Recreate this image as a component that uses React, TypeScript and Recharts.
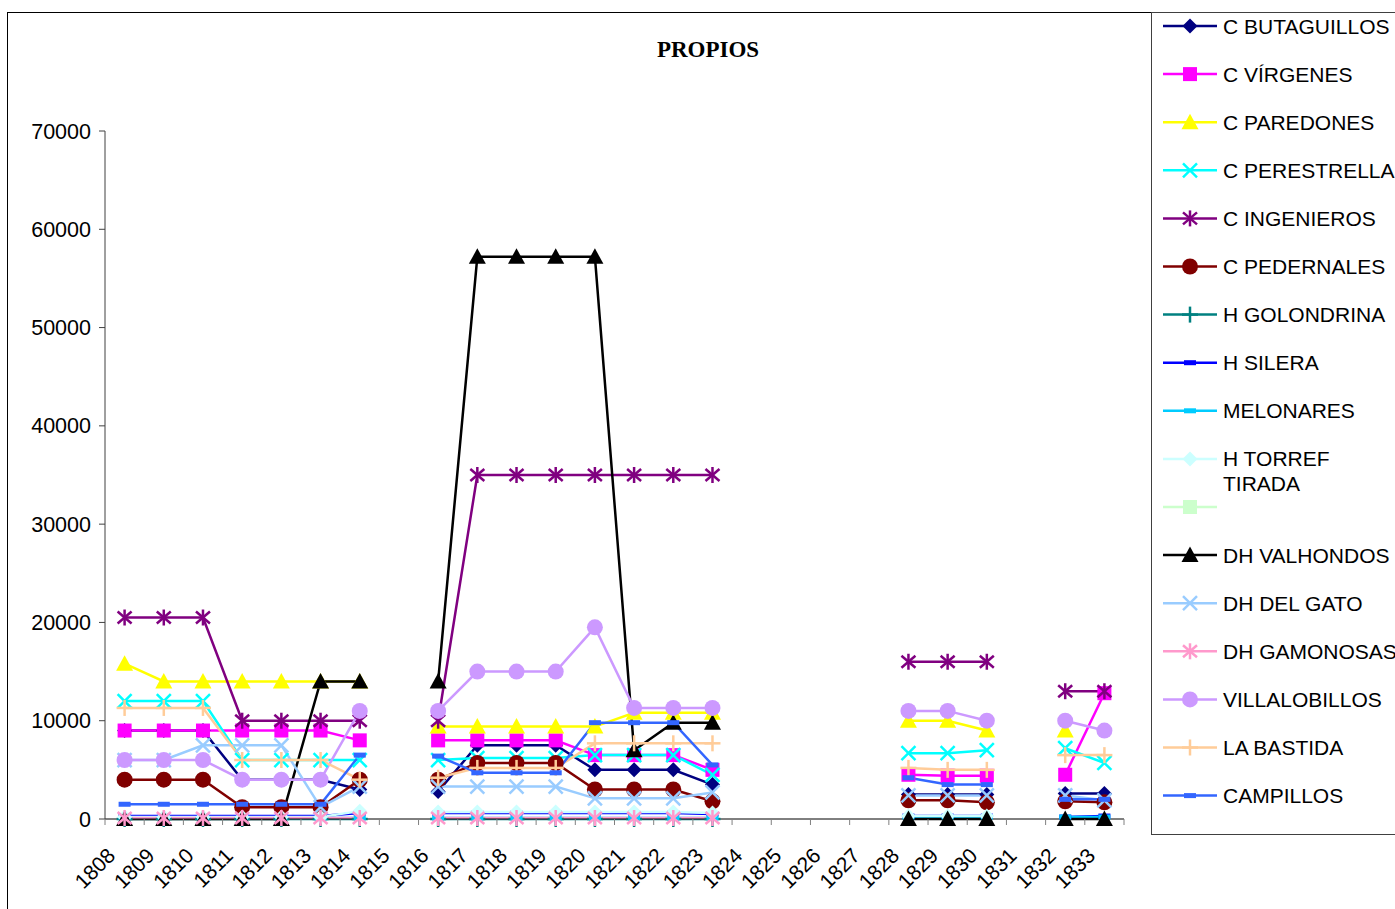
import { LineChart, Line, XAxis, YAxis } from 'recharts';

// Ingresos de propios por finca, 1808–1833 (años sin dato quedan en null).

const years = [
  1808, 1809, 1810, 1811, 1812, 1813, 1814, 1815, 1816, 1817, 1818, 1819, 1820,
  1821, 1822, 1823, 1824, 1825, 1826, 1827, 1828, 1829, 1830, 1831, 1832, 1833,
];
const yTicks = [0, 10000, 20000, 30000, 40000, 50000, 60000, 70000];

const N = null;
const butaguillos = [9000, 9000, 9000, 4000, 4000, 4000, 3000, N, 2800, 7500, 7500, 7500, 5000, 5000, 5000, 3500, N, N, N, N, 2500, 2500, 2500, N, 2600, 2600];
const virgenes = [9000, 9000, 9000, 9000, 9000, 9000, 8000, N, 8000, 8000, 8000, 8000, 6500, 6500, 6500, 5000, N, N, N, N, 4500, 4400, 4400, N, 4500, 12800];
const paredones = [15800, 14000, 14000, 14000, 14000, 14000, 14000, N, 9400, 9400, 9400, 9400, 9400, 10800, 10800, 10800, N, N, N, N, 10000, 10000, 9000, N, 9000, N];
const perestrella = [12000, 12000, 12000, 6000, 6000, 6000, 6000, N, 6000, 6200, 6200, 6200, 6500, 6500, 6500, 4500, N, N, N, N, 6700, 6700, 7000, N, 7200, 5700];
const ingenieros = [20500, 20500, 20500, 10000, 10000, 10000, 10000, N, 10000, 35000, 35000, 35000, 35000, 35000, 35000, 35000, N, N, N, N, 16000, 16000, 16000, N, 13000, 13000];
const pedernales = [4000, 4000, 4000, 1200, 1200, 1200, 4000, N, 4000, 5700, 5700, 5700, 3000, 3000, 3000, 1800, N, N, N, N, 1900, 1900, 1700, N, 1800, 1700];
const golondrina = [0, 0, 0, 0, 0, 0, 0, N, 0, 0, 0, 0, 0, 0, 0, 0, N, N, N, N, N, N, N, N, N, N];
const silera = [300, 300, 300, 300, 300, 300, 600, N, 600, 600, 600, 600, 600, 600, 600, 500, N, N, N, N, 300, 300, 300, N, 200, 300];
const melonares = [100, 100, 100, 100, 100, 100, 100, N, 100, 100, 100, 100, 100, 100, 100, 100, N, N, N, N, 200, 200, 200, N, 200, 200];
const torrefTirada = [200, 200, 200, 200, 200, 200, 800, N, 700, 700, 700, 700, 700, 700, 700, 600, N, N, N, N, 300, 300, 300, N, N, N];
const valhondos = [0, 0, 0, 0, 0, 14000, 14000, N, 14000, 57200, 57200, 57200, 57200, 7000, 9800, 9800, N, N, N, N, 0, 0, 0, N, 0, 0];
const delGato = [6000, 6000, 7500, 7500, 7500, 1200, 3300, N, 3300, 3300, 3300, 3300, 2100, 2100, 2100, 2700, N, N, N, N, 2400, 2400, 2400, N, 2400, 1900];
const gamonosas = [100, 100, 100, 100, 100, 100, 100, N, 100, 100, 100, 100, 100, 100, 100, 100, N, N, N, N, N, N, N, N, N, N];
const villalobillos = [6000, 6000, 6000, 4000, 4000, 4000, 11000, N, 11000, 15000, 15000, 15000, 19500, 11300, 11300, 11300, N, N, N, N, 11000, 11000, 10000, N, 10000, 9000];
const laBastida = [11300, 11300, 11300, 6000, 6000, 6000, 4000, N, 4200, 5200, 5200, 5200, 7700, 7700, 7700, 7700, N, N, N, N, 5200, 5000, 5000, N, 6500, 6500];
const campillos = [1500, 1500, 1500, 1500, 1500, 1500, 6500, N, 6400, 4700, 4700, 4700, 9800, 9800, 9800, 5500, N, N, N, N, 4200, 3500, 3500, N, 2000, 2000];

type Shape = 'diamond' | 'square' | 'triangle' | 'x' | 'star' | 'circle' | 'plus' | 'dash';
type Serie = { key: string; name: string; color: string; shape: Shape; values?: (number | null)[] };

const SERIES: Serie[] = [
  { key: 'butaguillos', name: 'C BUTAGUILLOS', color: '#000080', shape: 'diamond', values: butaguillos },
  { key: 'virgenes', name: 'C VÍRGENES', color: '#FF00FF', shape: 'square', values: virgenes },
  { key: 'paredones', name: 'C PAREDONES', color: '#FFFF00', shape: 'triangle', values: paredones },
  { key: 'perestrella', name: 'C PERESTRELLA', color: '#00FFFF', shape: 'x', values: perestrella },
  { key: 'ingenieros', name: 'C INGENIEROS', color: '#800080', shape: 'star', values: ingenieros },
  { key: 'pedernales', name: 'C PEDERNALES', color: '#800000', shape: 'circle', values: pedernales },
  { key: 'golondrina', name: 'H GOLONDRINA', color: '#008080', shape: 'plus', values: golondrina },
  { key: 'silera', name: 'H SILERA', color: '#0000FF', shape: 'dash', values: silera },
  { key: 'melonares', name: 'MELONARES', color: '#00CCFF', shape: 'dash', values: melonares },
  { key: 'torref', name: 'H TORREF TIRADA', color: '#CCFFFF', shape: 'diamond', values: torrefTirada },
  // entrada sin nombre ni datos, sólo aparece en la leyenda
  { key: 'blank', name: '', color: '#CCFFCC', shape: 'square' },
  { key: 'valhondos', name: 'DH VALHONDOS', color: '#000000', shape: 'triangle', values: valhondos },
  { key: 'gato', name: 'DH DEL GATO', color: '#99CCFF', shape: 'x', values: delGato },
  { key: 'gamonosas', name: 'DH GAMONOSAS', color: '#FF99CC', shape: 'star', values: gamonosas },
  { key: 'villalobillos', name: 'VILLALOBILLOS', color: '#CC99FF', shape: 'circle', values: villalobillos },
  { key: 'bastida', name: 'LA BASTIDA', color: '#FFCC99', shape: 'plus', values: laBastida },
  { key: 'campillos', name: 'CAMPILLOS', color: '#3366FF', shape: 'dash', values: campillos },
];

const rows = years.map((year, i) => {
  const row: Record<string, string | number | null> = { year: String(year) };
  SERIES.forEach((s) => {
    if (s.values) row[s.key] = s.values[i];
  });
  return row;
});

const W = 1395;
const H = 909;
const PLOT_LEFT = 105;
const PLOT_RIGHT = 1124;
const PLOT_TOP = 131;
const PLOT_BOTTOM = 819;
const Y_W = 95;
const X_H = 60;
const STEP = (PLOT_RIGHT - PLOT_LEFT) / years.length;
const FONT = '"Liberation Sans", Arial, sans-serif';

function Marker({ shape, color, cx, cy }: { shape: Shape; color: string; cx: number; cy: number }) {
  const sw = 2.5;
  switch (shape) {
    case 'diamond':
      return <polygon points={`${cx},${cy - 7.5} ${cx + 7.5},${cy} ${cx},${cy + 7.5} ${cx - 7.5},${cy}`} fill={color} />;
    case 'square':
      return <rect x={cx - 7} y={cy - 7} width={14} height={14} fill={color} />;
    case 'triangle':
      return <polygon points={`${cx},${cy - 8.5} ${cx + 8.5},${cy + 7} ${cx - 8.5},${cy + 7}`} fill={color} />;
    case 'x':
      return (
        <g stroke={color} strokeWidth={sw}>
          <line x1={cx - 7} y1={cy - 7} x2={cx + 7} y2={cy + 7} />
          <line x1={cx - 7} y1={cy + 7} x2={cx + 7} y2={cy - 7} />
        </g>
      );
    case 'star':
      return (
        <g stroke={color} strokeWidth={sw}>
          <line x1={cx - 7} y1={cy - 6} x2={cx + 7} y2={cy + 6} />
          <line x1={cx - 7} y1={cy + 6} x2={cx + 7} y2={cy - 6} />
          <line x1={cx} y1={cy - 8} x2={cx} y2={cy + 8} />
        </g>
      );
    case 'circle':
      return <circle cx={cx} cy={cy} r={8} fill={color} />;
    case 'plus':
      return (
        <g stroke={color} strokeWidth={sw}>
          <line x1={cx - 8} y1={cy} x2={cx + 8} y2={cy} />
          <line x1={cx} y1={cy - 8} x2={cx} y2={cy + 8} />
        </g>
      );
    case 'dash':
      return <rect x={cx - 6} y={cy - 2.5} width={12} height={5} fill={color} />;
  }
  return null;
}

function YearTick(props: any) {
  const { x, y, payload, index } = props;
  const half = STEP / 2;
  const last = index === years.length - 1;
  return (
    <g>
      <line x1={x - half} x2={x - half} y1={y} y2={y + 6} stroke="#808080" />
      {last && <line x1={x + half} x2={x + half} y1={y} y2={y + 6} stroke="#808080" />}
      <text
        transform={`translate(${x - 8},${y + 38}) rotate(-45)`}
        textAnchor="end"
        fontFamily={FONT}
        fontSize={21}
        fill="#000"
      >
        {payload.value}
      </text>
    </g>
  );
}

function Legend() {
  const rowY = (i: number) => 26 + i * 48.1;
  return (
    <g>
      <rect x={1151.5} y={12.5} width={300} height={822} fill="#fff" stroke="#404040" />
      {SERIES.map((s, i) => {
        const cy = rowY(i);
        const lines = s.name === 'H TORREF TIRADA' ? ['H TORREF', 'TIRADA'] : [s.name];
        return (
          <g key={s.key}>
            <line x1={1163} x2={1217} y1={cy} y2={cy} stroke={s.color} strokeWidth={2.5} />
            <Marker shape={s.shape} color={s.color} cx={1190} cy={cy} />
            {lines.map((t, j) => (
              <text key={j} x={1223} y={cy + 7.5 + j * 25} fontFamily={FONT} fontSize={21} fill="#000">
                {t}
              </text>
            ))}
          </g>
        );
      })}
    </g>
  );
}

export default function App() {
  return (
    <div style={{ position: 'absolute', left: 0, top: 0, width: W, height: H, background: '#fff', overflow: 'hidden' }}>
      <LineChart
        width={W}
        height={H}
        data={rows}
        margin={{ top: PLOT_TOP, right: W - PLOT_RIGHT, left: PLOT_LEFT - Y_W, bottom: H - PLOT_BOTTOM - X_H }}
      >
        <XAxis
          dataKey="year"
          interval={0}
          padding={{ left: STEP / 2, right: STEP / 2 }}
          height={X_H}
          tickSize={0}
          tickMargin={0}
          tickLine={false}
          axisLine={{ stroke: '#000' }}
          tick={YearTick}
        />
        <YAxis
          domain={[0, 70000]}
          ticks={yTicks}
          interval={0}
          width={Y_W}
          tickSize={6}
          tickMargin={8}
          axisLine={{ stroke: '#404040' }}
          tickLine={{ stroke: '#404040' }}
          tick={{ fontSize: 21.5, fill: '#000', fontFamily: FONT }}
        />
        {SERIES.filter((s) => s.values).map((s) => (
          <Line
            key={s.key}
            type="linear"
            dataKey={s.key}
            name={s.name}
            stroke={s.color}
            strokeWidth={2.5}
            isAnimationActive={false}
            activeDot={false}
            dot={(p: any) => {
              const k = `${s.key}-${p.index}`;
              if (p.value == null || p.cy == null) return <g key={k} />;
              return (
                <g key={k}>
                  <Marker shape={s.shape} color={s.color} cx={p.cx} cy={p.cy} />
                </g>
              );
            }}
          />
        ))}
      </LineChart>
      <svg width={W} height={H} style={{ position: 'absolute', left: 0, top: 0, pointerEvents: 'none' }}>
        <rect x={7.5} y={12.5} width={1500} height={1000} fill="none" stroke="#000" />
        <text x={708} y={57} textAnchor="middle" fontFamily='"Liberation Serif", "Times New Roman", serif' fontWeight="bold" fontSize={23} fill="#000">
          PROPIOS
        </text>
        <Legend />
      </svg>
    </div>
  );
}
